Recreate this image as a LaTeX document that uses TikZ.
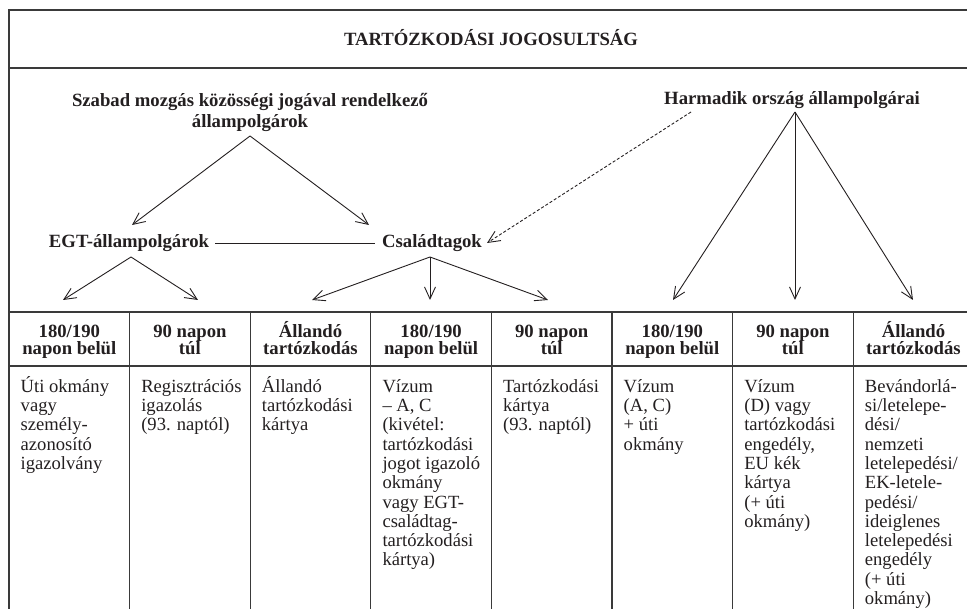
\documentclass[tikz,border=0pt]{standalone}
\usepackage{fontspec}
\setmainfont{Liberation Serif}
\usetikzlibrary{arrows.meta}
\definecolor{ink}{HTML}{231F20}
\definecolor{rulegray}{HTML}{3A3A3A}
\newcommand{\mytop}{\rule{0pt}{18pt}}
\newcommand{\mytight}{\lineskiplimit=-30pt\relax\lineskip=0pt\relax}
\begin{document}
\begin{tikzpicture}[x=1pt,y=-1pt,
  frameline/.style={line width=1.3pt, draw=rulegray},
  arr/.style={line width=0.9pt, draw=ink, -{Straight Barb[length=12pt,width=11pt,line width=0.9pt]}},
  dasharr/.style={arr, dash pattern=on 3pt off 2pt},
  plainline/.style={line width=0.9pt, draw=ink},
  big/.style={font={\fontsize{18.7}{21}\selectfont\bfseries\mytight}, text=ink, inner sep=0pt, align=center},
  hdr/.style={font={\fontsize{18.7}{17.7}\selectfont\bfseries\mytight}, text=ink, inner sep=0pt, align=center, anchor=north},
  cell/.style={font={\fontsize{18.6}{19.3}\selectfont\mytight}, text=ink, inner sep=0pt, align=left, anchor=north west}
]
\useasboundingbox (0,0) rectangle (967,609);

% frame and table rules
\draw[frameline] (967,10) -- (9,10) -- (9,609);
\draw[frameline] (9,68) -- (967,68);
\draw[frameline] (9,312) -- (967,312);
\draw[frameline] (9,366) -- (967,366);
\foreach \cx in {129.6,250.2,370.8,491.4,612,732.6,853.2}
  \draw[frameline] (\cx,312) -- (\cx,609);

% title
\node[big, anchor=base] (title) at (491,45.5) {TARTÓZKODÁSI JOGOSULTSÁG};

% upper diagram
\node[big, anchor=north] (szabad) at (250,88) {\mytop Szabad mozgás közösségi jogával rendelkező\\állampolgárok};
\node[big, anchor=base] (harm) at (792,105) {Harmadik ország állampolgárai};
\node[big, anchor=base] (egt) at (129,248) {EGT-állampolgárok};
\node[big, anchor=base] (csal) at (432,247.5) {Családtagok};

\coordinate (szA) at (250,136);
\coordinate (szL) at (132,225);
\coordinate (szR) at (369,225);
\coordinate (egtA) at (131,257);
\coordinate (egtL) at (63,300);
\coordinate (egtR) at (198,300);
\coordinate (csA) at (430,257);
\coordinate (csL) at (312,300);
\coordinate (csM) at (430,300);
\coordinate (csR) at (548,300);
\coordinate (haA) at (795,112);
\coordinate (haL) at (673,300);
\coordinate (haM) at (795,300);
\coordinate (haR) at (913,300);
\coordinate (dS) at (691,112);
\coordinate (dT) at (487,243);

\draw[arr] (szA) -- (szL);
\draw[arr] (szA) -- (szR);
\draw[plainline] ([xshift=6pt]egt.east) -- ([xshift=-7pt]csal.west |- egt.east);
\draw[dasharr] (dS) -- (dT);
\draw[arr] (egtA) -- (egtL);
\draw[arr] (egtA) -- (egtR);
\draw[arr] (csA) -- (csL);
\draw[arr] (csA) -- (csM);
\draw[arr] (csA) -- (csR);
\draw[arr] (haA) -- (haL);
\draw[arr] (haA) -- (haM);
\draw[arr] (haA) -- (haR);

% header cells
\node[hdr] (h1) at (69.3,319) {\mytop 180/190\\napon belül};
\node[hdr] (h2) at (189.9,319) {\mytop 90 napon\\túl};
\node[hdr] (h3) at (310.5,319) {\mytop Állandó\\tartózkodás};
\node[hdr] (h4) at (431.1,319) {\mytop 180/190\\napon belül};
\node[hdr] (h5) at (551.7,319) {\mytop 90 napon\\túl};
\node[hdr] (h6) at (672.3,319) {\mytop 180/190\\napon belül};
\node[hdr] (h7) at (792.9,319) {\mytop 90 napon\\túl};
\node[hdr] (h8) at (913.5,319) {\mytop Állandó\\tartózkodás};

% body cells
\node[cell] (b1) at (20.5,374) {\mytop Úti okmány\\vagy\\személy-\\azonosító\\igazolvány};
\node[cell] (b2) at (141.1,374) {\mytop Regisztrációs\\igazolás\\(93. naptól)};
\node[cell] (b3) at (261.7,374) {\mytop Állandó\\tartózkodási\\kártya};
\node[cell] (b4) at (382.3,374) {\mytop Vízum\\– A, C\\(kivétel:\\tartózkodási\\jogot igazoló\\okmány\\vagy EGT-\\családtag-\\tartózkodási\\kártya)};
\node[cell] (b5) at (502.9,374) {\mytop Tartózkodási\\kártya\\(93. naptól)};
\node[cell] (b6) at (623.5,374) {\mytop Vízum\\(A, C)\\+ úti\\okmány};
\node[cell] (b7) at (744.1,374) {\mytop Vízum\\(D) vagy\\tartózkodási\\engedély,\\EU kék\\kártya\\(+ úti\\okmány)};
\node[cell] (b8) at (864.7,374) {\mytop Bevándorlá-\\si/letelepe-\\dési/\\nemzeti\\letelepedési/\\EK-letele-\\pedési/\\ideiglenes\\letelepedési\\engedély\\(+ úti\\okmány)};
\end{tikzpicture}
\end{document}
